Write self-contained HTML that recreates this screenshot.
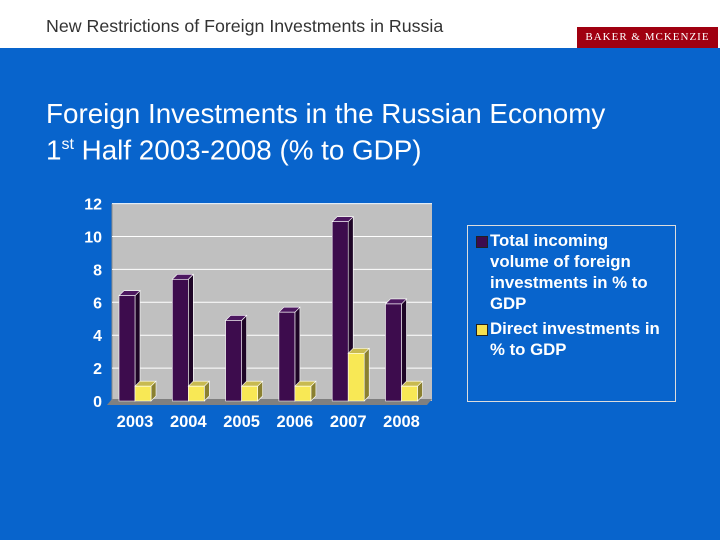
<!DOCTYPE html>
<html><head><meta charset="utf-8"><style>
body{margin:0;width:720px;height:540px;overflow:hidden;background:#0864cc;font-family:"Liberation Sans",sans-serif;position:relative}
#hdr{position:absolute;left:0;top:0;width:720px;height:48px;background:#fff}
#htitle{position:absolute;left:46px;top:16px;font-size:17.8px;color:#333}
#logo{position:absolute;left:577px;top:27px;width:141px;height:21px;background:#a00010;color:#fff;font-family:"Liberation Serif",serif;font-size:11px;letter-spacing:1px;text-align:center;line-height:21px}
#title{position:absolute;left:46px;top:98px;font-size:27.8px;color:#fff;line-height:31px}
sup{font-size:16px}
#legend{position:absolute;left:467px;top:225px;width:207px;height:175px;border:1.5px solid #ddd;color:#fff;font-weight:bold;font-size:16.8px}
.le{position:absolute;left:22px;line-height:21px;white-space:nowrap}
.sw{position:absolute;left:-14px;top:6px;width:10px;height:10px;border:1px solid #222}
</style></head><body>
<div id="hdr"><div id="htitle">New Restrictions of Foreign Investments in Russia</div></div>
<div id="logo">BAKER &amp; MCKENZIE</div>
<div id="title">Foreign Investments in the Russian Economy<br>1<sup>st</sup> Half 2003-2008 (% to GDP)</div>
<svg id="chart" width="720" height="540" style="position:absolute;left:0;top:0"></svg>
<div id="legend">
<div class="le" style="top:4px"><span class="sw" style="background:#3d0c4d"></span>Total incoming<br>volume of foreign<br>investments in % to<br>GDP</div>
<div class="le" style="top:92px"><span class="sw" style="background:#f5e050"></span>Direct investments in<br>% to GDP</div>
</div>
<script>
const years=["2003","2004","2005","2006","2007","2008"];
const total=[6.4,7.4,4.9,5.4,10.9,5.9];
const direct=[0.9,0.9,0.9,0.9,2.9,0.9];
const yTicks=[0,2,4,6,8,10,12];
const svg=document.getElementById('chart');const NS="http://www.w3.org/2000/svg";
function y(v){return 401-v*16.45;}
function x(i){return 119+i*53.3;}
function mk(t,a){const e=document.createElementNS(NS,t);for(const k in a)e.setAttribute(k,a[k]);svg.appendChild(e);return e;}
let wall=mk('rect',{x:112,y:y(12),width:320,height:y(0)-y(12),fill:'#c0c0c0'});

let fl=mk('polygon',{points:`107,405 112,399 432,399 427,405`,fill:'#808080'});

mk('line',{x1:112,y1:y(12),x2:112,y2:y(0),stroke:'#888'});
yTicks.forEach(t=>{
 if(t>0){let g=mk('line',{x1:112,y1:y(t),x2:432,y2:y(t),stroke:'#fff','stroke-width':1});}
 let tx=mk('text',{x:102,y:y(t)+6,'text-anchor':'end',fill:'#fff','font-size':16,'font-weight':'bold','font-family':'Liberation Sans'});
 tx.textContent=t;
});
function bar(bx,v,w,front,side,top,name){
 const g=document.createElementNS(NS,'g');svg.appendChild(g);
 
 const d=5,yt=y(v),yb=y(0);
 const p=(pts,f)=>{const e=document.createElementNS(NS,'polygon');e.setAttribute('points',pts);e.setAttribute('fill',f);e.setAttribute('stroke','#fff');e.setAttribute('stroke-width','0.6');g.appendChild(e);};
 p(`${bx+w},${yt} ${bx+w+d},${yt-d} ${bx+w+d},${yb-d} ${bx+w},${yb}`,side);
 p(`${bx},${yt} ${bx+d},${yt-d} ${bx+w+d},${yt-d} ${bx+w},${yt}`,top);
 p(`${bx},${yt} ${bx+w},${yt} ${bx+w},${yb} ${bx},${yb}`,front);
}
years.forEach((yr,i)=>{
 bar(x(i),total[i],16,'#3d0c4d','#1e0526','#4d1860','bar-total-'+yr);
 bar(x(i)+16,direct[i],16,'#f8e855','#8a8030','#c8ba50','bar-direct-'+yr);
 let tx=mk('text',{x:x(i)+16,y:427,'text-anchor':'middle',fill:'#fff','font-size':16.5,'font-weight':'bold','font-family':'Liberation Sans'});
 tx.textContent=yr;
});
</script>
</body></html>
